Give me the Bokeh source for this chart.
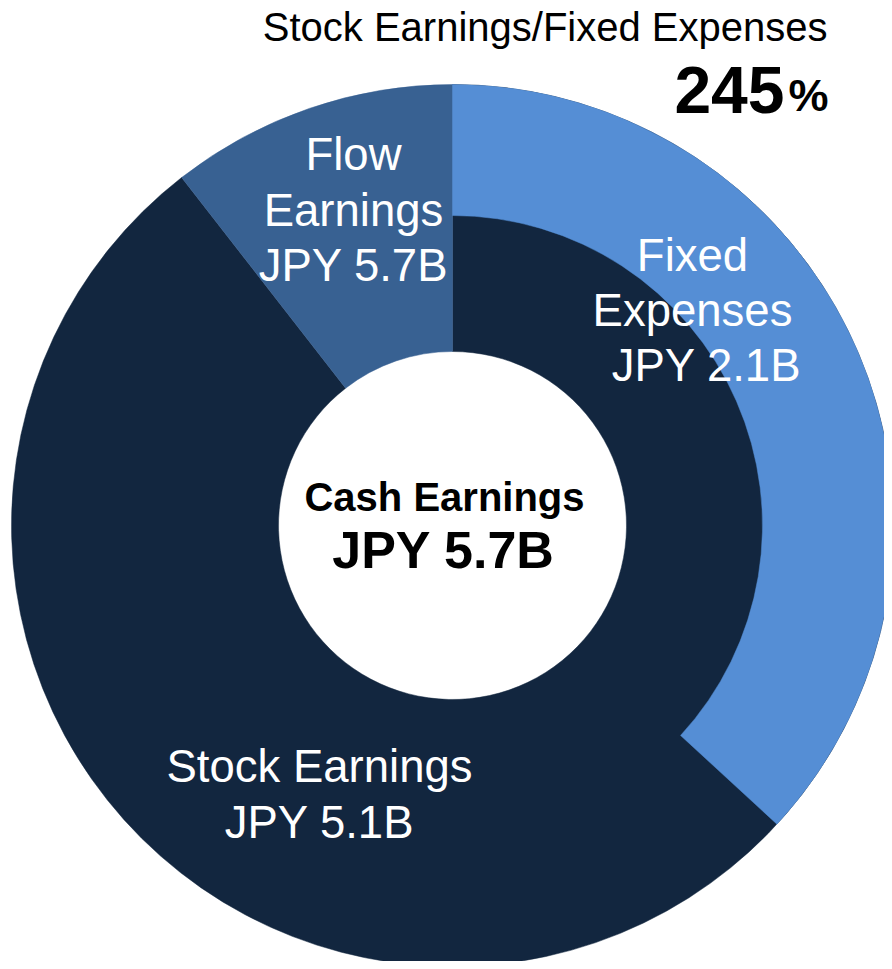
import numpy as np
from bokeh.plotting import figure
from bokeh.models import Range1d, ColumnDataSource
from bokeh.core.properties import value
from bokeh.embed import file_html
from bokeh.resources import INLINE

# ---- data ----
ring_names = ["Stock Earnings", "Flow Earnings"]
ring_values = [5.1, 0.6]          # stock + flow = cash earnings
ring_colors = ["#12263F", "#386192"]
cash_total = 5.7
fixed_value = 2.1
fixed_color = "#558ED5"
ratio_label = "245"
title_text = "Stock Earnings/Fixed Expenses"
center_lines = ["Cash Earnings", "JPY 5.7B"]
flow_lines = ["Flow", "Earnings", "JPY 5.7B"]
fixed_lines = ["Fixed", "Expenses", "JPY 2.1B"]
stock_lines = ["Stock Earnings", "JPY 5.1B"]

W, H = 884, 961
FONT = "Liberation Sans"

def px(x):
    return x

def py(y):
    return H - y

p = figure(width=W, height=H, output_backend="svg", toolbar_location=None,
           x_range=Range1d(0, W), y_range=Range1d(0, H), min_border=0,
           outline_line_color=None, background_fill_color="white")
p.axis.visible = False
p.grid.visible = False
p.min_border_left = p.min_border_right = p.min_border_top = p.min_border_bottom = 0

cx, cy = px(452), py(525)
r_out, r_in, r_mid = 441, 174, 310

# outer ring (clockwise from 12 o'clock)
fr = np.array(ring_values) / cash_total
ends = np.cumsum(fr)
starts = ends - fr
src = ColumnDataSource(dict(
    start=np.pi / 2 - starts * 2 * np.pi,
    end=np.pi / 2 - ends * 2 * np.pi,
    color=ring_colors,
))
p.annular_wedge(x=cx, y=cy, inner_radius=r_in, outer_radius=r_out,
                start_angle="start", end_angle="end", direction="clock",
                fill_color="color", line_color="color", line_width=0.5, source=src)

# fixed expenses overlay wedge
ff = fixed_value / cash_total
p.annular_wedge(x=cx, y=cy, inner_radius=r_mid, outer_radius=r_out,
                start_angle=np.pi / 2, end_angle=np.pi / 2 - ff * 2 * np.pi,
                direction="clock", fill_color=fixed_color, line_color=fixed_color,
                line_width=0.5)

def txt(x, y, s, size, color="white", bold=False, align="center"):
    p.text(x=[px(x)], y=[py(y)], text=[s], text_font=value(FONT),
           text_font_size=f"{size}px", text_color=color,
           text_font_style="bold" if bold else "normal",
           text_align=align, text_baseline="middle")

# title and ratio
txt(827, 26, title_text, 40, color="black", align="right")
txt(784, 89, ratio_label, 66, color="black", bold=True, align="right")
txt(828, 95, "%", 45, color="black", bold=True, align="right")

# center
txt(444, 496, center_lines[0], 40, color="black", bold=True)
txt(443, 549, center_lines[1], 52, color="black", bold=True)

# flow label
for i, s in enumerate(flow_lines):
    txt(353, 154 + 55.5 * i, s, 45.5)

# fixed label
fx = [692, 692, 706]
for i, s in enumerate(fixed_lines):
    txt(fx[i], 255 + 55 * i, s, 45.5)

# stock label
for i, s in enumerate(stock_lines):
    txt(319, 766 + 56 * i, s, 45.5)

open("out.html", "w").write(file_html(p, INLINE))
